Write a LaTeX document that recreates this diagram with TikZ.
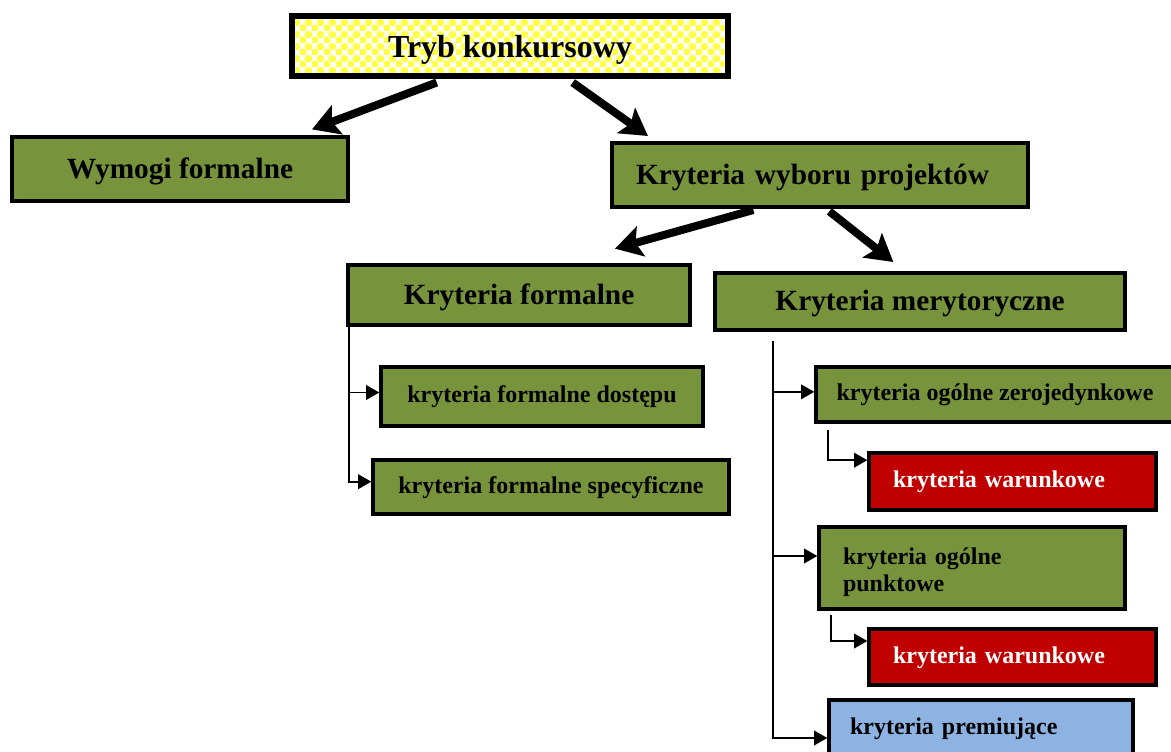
\documentclass[tikz,border=0pt]{standalone}
\usepackage{fontspec}
\setmainfont{Liberation Serif}
\usepackage{tikz}
\usetikzlibrary{arrows.meta}
\usetikzlibrary{patterns}

\definecolor{kgreen}{HTML}{77933C}
\definecolor{kred}{HTML}{C00000}
\definecolor{kblue}{HTML}{8DB3E2}
\definecolor{kyellow}{HTML}{FFFF48}
\definecolor{kpale}{HTML}{FFFFF4}

\pgfdeclarepatterninherentlycolored{yellowchecks}{\pgfpointorigin}{\pgfqpoint{9pt}{9pt}}{\pgfqpoint{9pt}{9pt}}{%
  \pgfsetfillcolor{kpale}\pgfpathrectangle{\pgfpointorigin}{\pgfqpoint{9pt}{9pt}}\pgfusepath{fill}%
  \pgfsetfillcolor{kyellow}%
  \pgfpathcircle{\pgfqpoint{2.25pt}{2.25pt}}{3pt}%
  \pgfpathcircle{\pgfqpoint{6.75pt}{6.75pt}}{3pt}%
  \pgfusepath{fill}}

\begin{document}
\begin{tikzpicture}[x=0.75pt,y=-0.75pt,
  box/.style={draw, line width=2.5pt, fill=kgreen, inner sep=0pt, align=center, text height=13pt, text depth=4pt, font=\bfseries\fontsize{18}{20.5}\selectfont},
  bigbox/.style={box, text height=18pt, text depth=4pt, font=\bfseries\fontsize{22}{26}\selectfont},
  leftbox/.style={box, align=left, inner xsep=18pt},
  redbox/.style={leftbox, fill=kred, text=white},
  trybbox/.style={draw, line width=3.8pt, pattern=yellowchecks, inner sep=0pt, text height=20pt, text depth=3pt, font=\bfseries\fontsize{24}{28}\selectfont},
  bigarrow/.style={line width=6pt, -{Stealth[length=20pt,width=23pt,inset=4pt]}},
  smallarrow/.style={line width=1.4pt, -{Triangle[length=10pt,width=11pt]}}
]
\useasboundingbox (0,0) rectangle (1171,751);

% Top
\node[trybbox, minimum width=327pt, minimum height=45pt] (tryb) at (510,46) {Tryb konkursowy};
% Level 1
\node[bigbox, minimum width=252pt, minimum height=48pt] (wymogi) at (180,169) {Wymogi formalne};
\node[bigbox, align=left, inner xsep=18pt, text width=276pt, minimum height=48pt] (wybor) at (820,175) {Kryteria wyboru projektów};
% Level 2
\node[bigbox, minimum width=256.5pt, minimum height=45pt] (kform) at (519,295) {Kryteria formalne};
\node[bigbox, minimum width=307.5pt, minimum height=42.75pt] (kmeryt) at (920,301.5) {Kryteria merytoryczne};
% Formal criteria
\node[box, minimum width=241.5pt, minimum height=44.25pt] (dostep) at (542,396.5) {kryteria formalne dostępu};
\node[box, minimum width=267pt, minimum height=40.5pt] (specyf) at (551,487) {kryteria formalne specyficzne};
% Substantive criteria
\node[box, minimum width=268.5pt, minimum height=41.25pt] (zeroj) at (995,394.5) {kryteria ogólne zerojedynkowe};
\node[redbox, text width=179.25pt, minimum height=42.75pt] (warunk1) at (1012.5,481.5) {kryteria warunkowe};
\node[leftbox, text height=13pt, text depth=19pt, text width=193.5pt, minimum height=61.5pt] (punkt) at (972,568) {kryteria ogólne\\punktowe};
\node[redbox, text width=179.25pt, minimum height=42pt] (warunk2) at (1012.5,657) {kryteria warunkowe};
\node[leftbox, fill=kblue, inner xsep=15.75pt, text width=196.5pt, minimum height=42pt] (premia) at (981,728) {kryteria premiujące};

% Thick arrows
\draw[bigarrow] ([xshift=-55pt,yshift=-3pt]tryb.south) -- ([xshift=99pt,yshift=4.5pt]wymogi.north);
\draw[bigarrow] ([xshift=47pt,yshift=-3pt]tryb.south) -- ([xshift=-129pt,yshift=4pt]wybor.north);
\draw[bigarrow] ([xshift=-50pt,yshift=-1pt]wybor.south) -- ([xshift=72pt,yshift=11pt]kform.north);
\draw[bigarrow] ([xshift=7pt,yshift=-2pt]wybor.south) -- ([xshift=-20pt,yshift=7pt]kmeryt.north);

% Thin connectors, left
\coordinate (lspine) at ([xshift=2pt]kform.south west);
\draw[smallarrow] (lspine) |- ([yshift=3pt]dostep.west);
\draw[smallarrow] (lspine) |- ([yshift=4pt]specyf.west);

% Thin connectors, right
\coordinate (rspine) at ([xshift=45pt,yshift=-7pt]kmeryt.south west);
\draw[smallarrow] (rspine) |- ([yshift=2pt]zeroj.west);
\draw[smallarrow] (rspine) |- ([yshift=9pt]punkt.west);
\draw[smallarrow] (rspine) |- ([yshift=-7.5pt]premia.west);
\draw[smallarrow] ([xshift=10.5pt,yshift=-4.5pt]zeroj.south west) |- ([yshift=16pt]warunk1.west);
\draw[smallarrow] ([xshift=10pt,yshift=-3pt]punkt.south west) |- ([yshift=12pt]warunk2.west);

\end{tikzpicture}
\end{document}
